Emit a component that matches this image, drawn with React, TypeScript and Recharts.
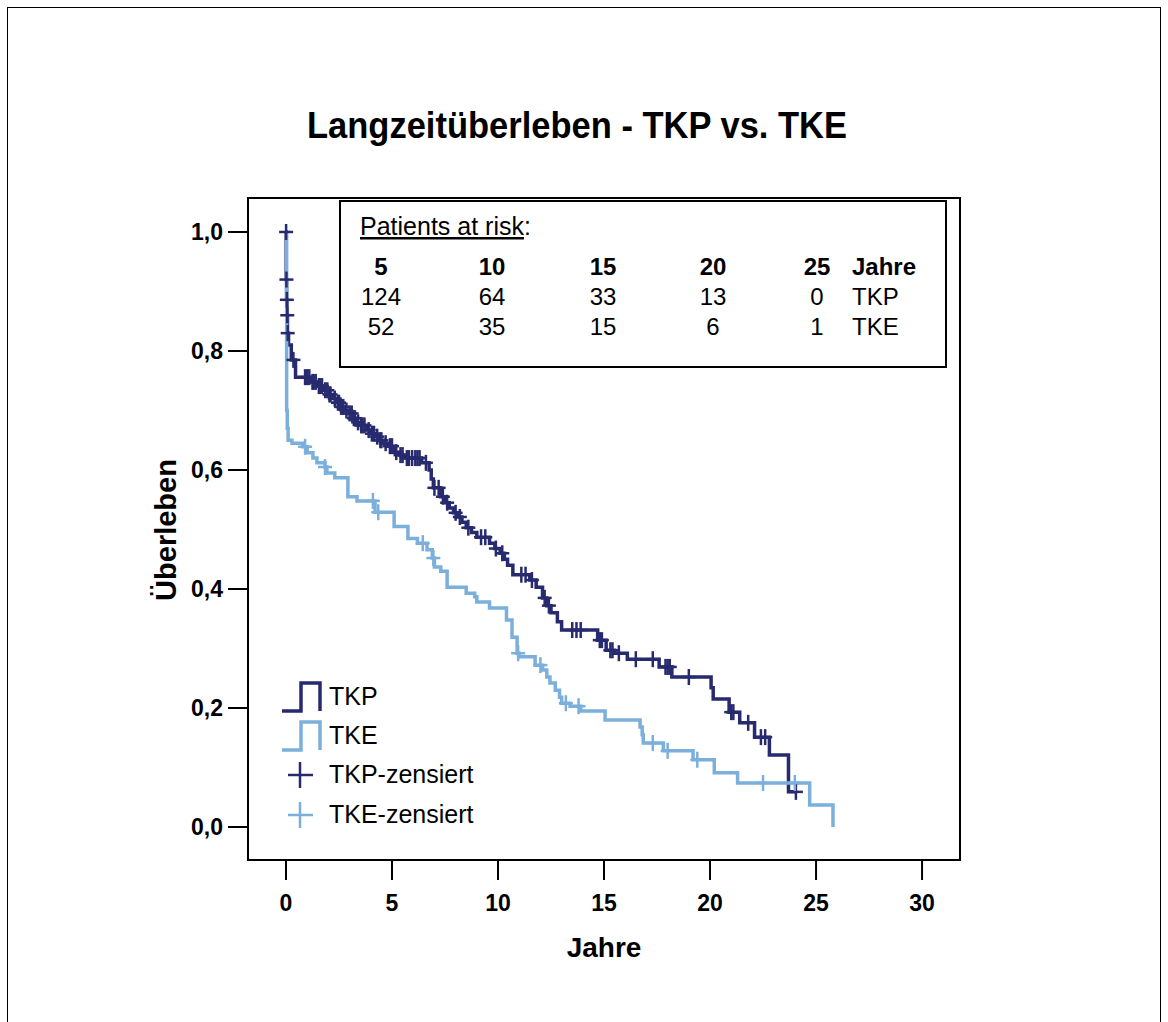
import React from 'react';
import { ComposedChart, Line, Scatter, XAxis, YAxis, ReferenceArea } from 'recharts';

// Kaplan-Meier step points (time in years, survival)
const tkpTime = [0, 0.01, 0.03, 0.05, 0.07, 0.12, 0.25, 0.45, 1.2, 1.5, 1.75, 2.0, 2.2, 2.4, 2.55, 2.75, 2.9, 3.16, 3.35, 3.5, 3.8, 4.0, 4.2, 4.4, 4.6, 4.8, 5.1, 5.35, 5.6, 6.4, 6.75, 6.85, 6.95, 7.3, 7.5, 7.7, 7.9, 8.1, 8.3, 8.5, 8.75, 9.0, 9.6, 9.85, 10.1, 10.3, 10.45, 10.7, 11.5, 11.8, 12.1, 12.3, 12.5, 12.8, 13.0, 14.7, 15.1, 15.5, 16.1, 17.6, 18.2, 20.05, 20.15, 20.9, 21.4, 22.1, 22.8, 23.7, 24.1];
const tkpSurv = [1.0, 0.92, 0.886, 0.86, 0.83, 0.81, 0.785, 0.756, 0.748, 0.741, 0.734, 0.727, 0.72, 0.713, 0.706, 0.7, 0.695, 0.687, 0.68, 0.675, 0.667, 0.661, 0.656, 0.65, 0.645, 0.64, 0.63, 0.625, 0.62, 0.612, 0.6, 0.585, 0.57, 0.555, 0.545, 0.536, 0.528, 0.521, 0.512, 0.503, 0.495, 0.487, 0.477, 0.468, 0.46, 0.45, 0.44, 0.424, 0.415, 0.403, 0.385, 0.372, 0.36, 0.345, 0.331, 0.314, 0.297, 0.292, 0.282, 0.269, 0.252, 0.234, 0.215, 0.193, 0.175, 0.151, 0.121, 0.059, 0.059];

const tkeTime = [0, 0.03, 0.06, 0.1, 0.28, 0.8, 1.0, 1.27, 1.46, 1.84, 1.93, 2.3, 2.92, 3.35, 4.2, 5.1, 5.75, 6.2, 6.65, 6.9, 7.0, 7.3, 7.6, 8.5, 8.9, 9.0, 9.6, 10.4, 10.66, 10.9, 11.0, 11.75, 12.1, 12.3, 12.45, 12.7, 12.9, 13.0, 13.4, 13.9, 15.05, 16.7, 16.8, 16.85, 17.8, 19.2, 20.2, 21.3, 24.7, 25.8];
const tkeSurv = [1.0, 0.7, 0.67, 0.65, 0.645, 0.639, 0.629, 0.62, 0.612, 0.605, 0.595, 0.587, 0.555, 0.548, 0.529, 0.505, 0.485, 0.477, 0.466, 0.452, 0.437, 0.43, 0.403, 0.393, 0.387, 0.378, 0.368, 0.348, 0.319, 0.292, 0.286, 0.272, 0.264, 0.252, 0.242, 0.23, 0.218, 0.208, 0.203, 0.195, 0.18, 0.168, 0.155, 0.141, 0.128, 0.113, 0.091, 0.074, 0.037, 0.0];

// censored observation times
const tkpCensored = [0.005, 0.02, 0.04, 0.06, 0.08, 0.35, 0.9, 1.0, 1.1, 1.25, 1.3, 1.4, 1.55, 1.6, 1.7, 1.85, 1.95, 2.05, 2.1, 2.3, 2.45, 2.5, 2.6, 2.7, 2.85, 3.0, 3.1, 3.2, 3.25, 3.4, 3.55, 3.6, 3.7, 3.9, 4.05, 4.15, 4.3, 4.45, 4.5, 4.7, 4.9, 5.0, 5.2, 5.4, 5.5, 5.7, 5.8, 5.95, 6.1, 6.2, 6.3, 6.6, 7.0, 7.2, 7.4, 7.6, 8.0, 8.2, 8.6, 9.2, 9.4, 9.9, 10.2, 11.1, 11.3, 11.6, 12.2, 12.4, 13.5, 13.7, 13.9, 14.8, 14.9, 15.3, 15.4, 15.7, 16.5, 17.3, 17.9, 18.0, 18.1, 19.0, 21.0, 21.1, 21.8, 22.4, 22.6, 24.05];
const tkeCensored = [0.9, 1.84, 4.1, 4.35, 6.45, 6.95, 10.95, 12.0, 13.2, 13.8, 17.3, 18.0, 19.4, 22.5, 24.0];

const xTicks = [0, 5, 10, 15, 20, 25, 30];
const yTicks = [0, 0.2, 0.4, 0.6, 0.8, 1.0];

const riskYears = [5, 10, 15, 20, 25];
const riskTKP = [124, 64, 33, 13, 0];
const riskTKE = [52, 35, 15, 6, 1];

const DARK = '#272a6e';
const LIGHT = '#7bafdc';
const FONT = '"Liberation Sans", Arial, Helvetica, sans-serif';

const toSteps = (times: number[], surv: number[]) => times.map((t, i) => ({ t, s: surv[i] }));

const survAt = (times: number[], surv: number[], x: number) => {
  let v = surv[0];
  for (let i = 0; i < times.length; i++) {
    if (times[i] <= x) v = surv[i];
  }
  return v;
};

const tkpData = toSteps(tkpTime, tkpSurv);
const tkeData = toSteps(tkeTime, tkeSurv);
const tkpCens = tkpCensored.map(t => ({ t, s: survAt(tkpTime, tkpSurv, t) }));
const tkeCens = tkeCensored.map(t => ({ t, s: survAt(tkeTime, tkeSurv, t) }));

const plus = (color: string, w: number, h: number) => (props: any) => {
  const { cx, cy } = props;
  return (
    <g stroke={color} strokeWidth={2.5}>
      <line x1={cx - w} x2={cx + w} y1={cy} y2={cy} />
      <line x1={cx} x2={cx} y1={cy - h} y2={cy + h} />
    </g>
  );
};

const X_DOMAIN: [number, number] = [-1.792, 31.79];
const Y_DOMAIN: [number, number] = [-0.0555, 1.0571];

const colX = [381, 492, 603, 713, 817];

export default function App() {
  const tickStyle = { fontSize: 23, fontWeight: 'bold', fill: '#000', fontFamily: FONT };

  return (
    <div style={{ position: 'absolute', left: 0, top: 0, width: 1168, height: 1022, background: '#fff', fontFamily: FONT, overflow: 'hidden' }}>
      <div style={{ position: 'absolute', left: 7, top: 7, width: 1152, height: 1040, border: '1px solid #000' }} />
      <div style={{ position: 'absolute', left: 0, top: 0 }}>
        <ComposedChart
          width={1168}
          height={1022}
          margin={{ top: 198, right: 208, bottom: 102, left: 188 }}
        >
          <XAxis
            dataKey="t"
            type="number"
            domain={X_DOMAIN}
            ticks={xTicks}
            interval={0}
            allowDataOverflow
            height={60}
            axisLine={false}
            tickSize={20}
            tickMargin={15}
            tickLine={{ stroke: '#000', strokeWidth: 2 }}
            tick={tickStyle}
          />
          <YAxis
            dataKey="s"
            type="number"
            domain={Y_DOMAIN}
            ticks={yTicks}
            interval={0}
            allowDataOverflow
            width={60}
            axisLine={false}
            tickSize={20}
            tickMargin={5}
            tickLine={{ stroke: '#000', strokeWidth: 2 }}
            tick={tickStyle}
            tickFormatter={(v: number) => v.toFixed(1).replace('.', ',')}
          />
          <ReferenceArea
            x1={X_DOMAIN[0]}
            x2={X_DOMAIN[1]}
            y1={Y_DOMAIN[0]}
            y2={Y_DOMAIN[1]}
            fill="none"
            fillOpacity={0}
            stroke="#000"
            strokeWidth={2}
            ifOverflow="visible"
          />
          <Line
            data={tkpData}
            dataKey="s"
            type="stepAfter"
            stroke={DARK}
            strokeWidth={3.5}
            dot={false}
            isAnimationActive={false}
          />
          <Line
            data={tkeData}
            dataKey="s"
            type="stepAfter"
            stroke={LIGHT}
            strokeWidth={3.5}
            dot={false}
            isAnimationActive={false}
          />
          <Scatter data={tkpCens} dataKey="s" shape={plus(DARK, 7, 8)} isAnimationActive={false} />
          <Scatter data={tkeCens} dataKey="s" shape={plus(LIGHT, 7, 8)} isAnimationActive={false} />
        </ComposedChart>
      </div>

      <svg width={1168} height={1022} style={{ position: 'absolute', left: 0, top: 0, pointerEvents: 'none' }} fontFamily={FONT}>
        <text x={577} y={138} textAnchor="middle" fontSize={36} fontWeight="bold" textLength={540} lengthAdjust="spacingAndGlyphs">
          Langzeitüberleben - TKP vs. TKE
        </text>
        <text x={604} y={957} textAnchor="middle" fontSize={28} fontWeight="bold">Jahre</text>
        <text transform="translate(176,530) rotate(-90)" textAnchor="middle" fontSize={29} fontWeight="bold">Überleben</text>

        {/* patients at risk box */}
        <rect x={340} y={201} width={606} height={166} fill="#fff" stroke="#000" strokeWidth={2} />
        <text x={360} y={235} fontSize={25}>
          <tspan style={{ textDecoration: 'underline' }}>Patients at risk</tspan>:
        </text>
        {riskYears.map((y, i) => (
          <text key={'h' + y} x={colX[i]} y={275} textAnchor="middle" fontSize={24} fontWeight="bold">{y}</text>
        ))}
        <text x={852} y={275} fontSize={24} fontWeight="bold">Jahre</text>
        {riskTKP.map((n, i) => (
          <text key={'p' + i} x={colX[i]} y={305} textAnchor="middle" fontSize={24}>{n}</text>
        ))}
        <text x={852} y={305} fontSize={24}>TKP</text>
        {riskTKE.map((n, i) => (
          <text key={'e' + i} x={colX[i]} y={335} textAnchor="middle" fontSize={24}>{n}</text>
        ))}
        <text x={852} y={335} fontSize={24}>TKE</text>

        {/* legend */}
        <path d="M282,711 H301 V683 H320 V711" fill="none" stroke={DARK} strokeWidth={3.5} />
        <text x={329} y={705} fontSize={25}>TKP</text>
        <path d="M282,750 H301 V722 H320 V750" fill="none" stroke={LIGHT} strokeWidth={3.5} />
        <text x={329} y={744} fontSize={25}>TKE</text>
        <g stroke={DARK} strokeWidth={2.5}>
          <line x1={288} x2={313} y1={775} y2={775} />
          <line x1={300} x2={300} y1={762} y2={788} />
        </g>
        <text x={329} y={783} fontSize={25}>TKP-zensiert</text>
        <g stroke={LIGHT} strokeWidth={2.5}>
          <line x1={288} x2={313} y1={815} y2={815} />
          <line x1={300} x2={300} y1={802} y2={828} />
        </g>
        <text x={329} y={823} fontSize={25}>TKE-zensiert</text>
      </svg>
    </div>
  );
}
